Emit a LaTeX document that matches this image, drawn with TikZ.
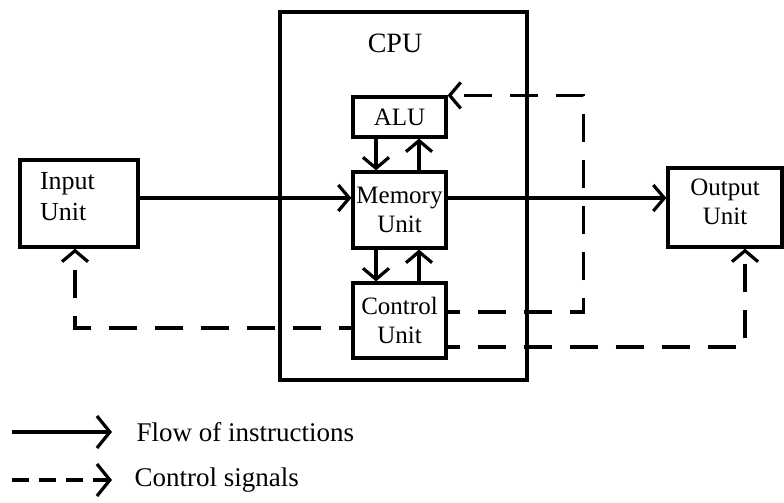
\documentclass[tikz,border=0pt]{standalone}
\usepackage{fontspec}
\setmainfont{Liberation Serif}
\usetikzlibrary{arrows.meta, calc}

\tikzset{
  unitbox/.style={draw, line width=3.2pt, inner sep=0pt, align=center,
    font=\fontsize{25}{29}\selectfont},
  flow/.style={line width=3.2pt, -{Straight Barb[length=11pt, width=26pt]}},
  ctl/.style={flow, dash pattern=on 28pt off 18pt, dash phase=16pt},
  legendtip/.style={-{Straight Barb[length=13pt, width=32pt]}},
  legendtext/.style={anchor=west, font=\fontsize{27}{31}\selectfont}
}

\begin{document}
\begin{tikzpicture}[x=1pt, y=-1pt]
\useasboundingbox (0,0) rectangle (784,503);
\node[draw, line width=3.2pt, minimum width=247pt, minimum height=368pt] (cpu) at (403.5,196) {};
\node[font=\fontsize{28}{32}\selectfont] (cputxt) at (395,43) {CPU};

\node[unitbox, minimum width=93pt, minimum height=40pt] (alu) at (399.5,117) {ALU};
\node[unitbox, minimum width=93pt, minimum height=76pt] (mem) at (399.5,210) {Memory\\Unit};
\node[unitbox, minimum width=93pt, minimum height=75pt] (ctrl) at (399.5,320.5) {Control\\Unit};
\node[unitbox, minimum width=118pt, minimum height=87pt, text width=78pt, align=left,
      text depth=46pt, font=\fontsize{26}{31}\selectfont] (inp) at (79,203.5) {Input\\Unit};
\node[unitbox, minimum width=114pt, minimum height=79pt, text depth=12pt] (out) at (725,207.5) {Output\\Unit};

\draw[flow] (inp.east |- 0,198) -- (mem.west |- 0,198);
\draw[flow] (mem.east |- 0,198) -- (out.west |- 0,198);
\draw[flow] ([xshift=-23.5pt]alu.south) -- ([xshift=-23.5pt]mem.north);
\draw[flow] ([xshift=19.5pt]mem.north) -- ([xshift=19.5pt]alu.south);
\draw[flow] ([xshift=-23.5pt]mem.south) -- ([xshift=-23.5pt]ctrl.north);
\draw[flow] ([xshift=19.5pt]ctrl.north) -- ([xshift=19.5pt]mem.south);

\draw[ctl] ([yshift=8.5pt]ctrl.east) -- ++(136,0) |- (alu.north east);
\draw[ctl] ([yshift=-26.5pt]ctrl.east) -| ([xshift=20pt]out.south);
\draw[ctl] ([yshift=-7.5pt]ctrl.west) -| ([xshift=-4pt]inp.south);

\coordinate (lgsolid) at (12,432);
\coordinate (lgsolidend) at (112,432);
\coordinate (lgdash) at (12,480);
\coordinate (lgdashend) at (112,480);
\draw[flow, legendtip] (lgsolid) -- (lgsolidend);
\draw[flow, legendtip, dash pattern=on 17pt off 10pt] (lgdash) -- (lgdashend);
\node[legendtext] (lgflow) at (133,432) {Flow of instructions};
\node[legendtext] (lgctl) at (131,480) {Control signals};
\end{tikzpicture}
\end{document}
